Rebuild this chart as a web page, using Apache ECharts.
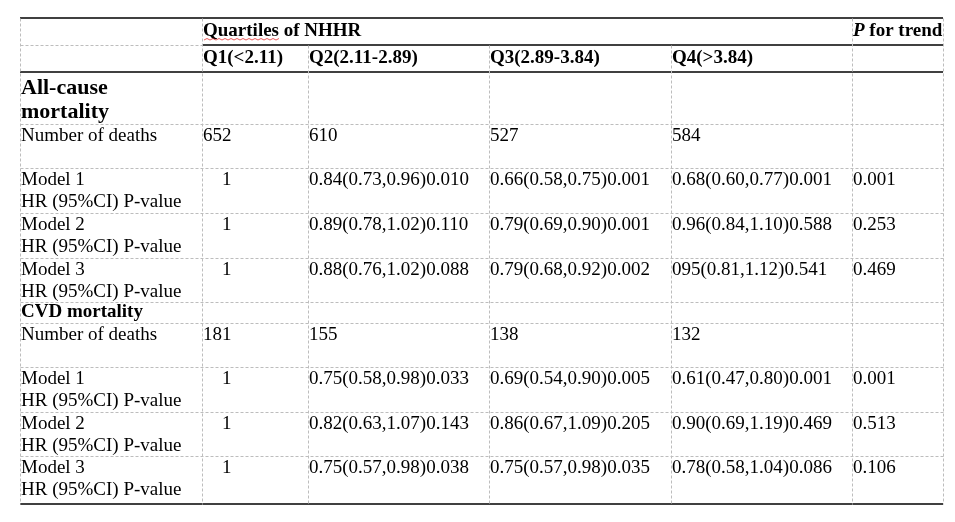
<!DOCTYPE html>
<html>
<head>
<meta charset="utf-8">
<title>NHHR quartiles table</title>
<script src="https://cdn.jsdelivr.net/npm/echarts@6/dist/echarts.min.js"></script>
<style>
  html, body { margin: 0; padding: 0; background: #fff; }
  #main { width: 955px; height: 522px; }
</style>
</head>
<body>
<div id="main"></div>
<script>
// ---- table content ----
var groupTitle = 'Quartiles of NHHR';
var trendTitle = 'P for trend';
var quartiles = ['Q1(<2.11)', 'Q2(2.11-2.89)', 'Q3(2.89-3.84)', 'Q4(>3.84)'];
var sections = ['All-cause\nmortality', 'CVD mortality'];
var deathsLabel = 'Number of deaths';
var modelLabels = ['Model 1\nHR (95%CI) P-value', 'Model 2\nHR (95%CI) P-value', 'Model 3\nHR (95%CI) P-value'];

var allDeaths = ['652', '610', '527', '584'];
var allModel1 = ['1', '0.84(0.73,0.96)0.010', '0.66(0.58,0.75)0.001', '0.68(0.60,0.77)0.001'];
var allModel2 = ['1', '0.89(0.78,1.02)0.110', '0.79(0.69,0.90)0.001', '0.96(0.84,1.10)0.588'];
var allModel3 = ['1', '0.88(0.76,1.02)0.088', '0.79(0.68,0.92)0.002', '095(0.81,1.12)0.541'];
var allTrend = ['0.001', '0.253', '0.469'];

var cvdDeaths = ['181', '155', '138', '132'];
var cvdModel1 = ['1', '0.75(0.58,0.98)0.033', '0.69(0.54,0.90)0.005', '0.61(0.47,0.80)0.001'];
var cvdModel2 = ['1', '0.82(0.63,1.07)0.143', '0.86(0.67,1.09)0.205', '0.90(0.69,1.19)0.469'];
var cvdModel3 = ['1', '0.75(0.57,0.98)0.038', '0.75(0.57,0.98)0.035', '0.78(0.58,1.04)0.086'];
var cvdTrend = ['0.001', '0.513', '0.106'];

// ---- layout (page units, mapped through the hidden axes) ----
var colEdges = [20, 202, 308, 489, 671, 852, 943];
var rowEdges = [18, 45, 72, 124, 168, 213, 258, 302, 323, 367, 412, 456, 504];
var FONT = '"Liberation Serif", "Times New Roman", serif';

// cells: row, col, text, kind
var cells = [];
function add(row, col, text, kind) { cells.push({ row: row, col: col, text: text, kind: kind || 'body' }); }

add(0, 1, groupTitle, 'head');
add(0, 5, trendTitle, 'trend');
quartiles.forEach(function (q, i) { add(1, i + 1, q, 'head'); });

function addSection(startRow, title, titleKind, deaths, models, trend) {
  add(startRow, 0, title, titleKind);
  add(startRow + 1, 0, deathsLabel);
  deaths.forEach(function (v, i) { add(startRow + 1, i + 1, v); });
  models.forEach(function (vals, m) {
    add(startRow + 2 + m, 0, modelLabels[m], 'model');
    vals.forEach(function (v, i) { add(startRow + 2 + m, i + 1, v, i === 0 ? 'ref' : 'body'); });
    add(startRow + 2 + m, 5, trend[m]);
  });
}
addSection(2, sections[0], 'section', allDeaths, [allModel1, allModel2, allModel3], allTrend);
addSection(7, sections[1], 'section2', cvdDeaths, [cvdModel1, cvdModel2, cvdModel3], cvdTrend);

// rules: [x1, y1, x2, y2, solid?]
var rules = [];
var L = colEdges[0], R = colEdges[colEdges.length - 1];
rules.push([L, rowEdges[0], R, rowEdges[0], true]);
rules.push([L, rowEdges[1], colEdges[1], rowEdges[1], false]);
rules.push([colEdges[1], rowEdges[1], R, rowEdges[1], true]);
rules.push([L, rowEdges[2], R, rowEdges[2], true]);
for (var r = 3; r < rowEdges.length - 1; r++) rules.push([L, rowEdges[r], R, rowEdges[r], false]);
rules.push([L, rowEdges[rowEdges.length - 1], R, rowEdges[rowEdges.length - 1], true]);
colEdges.forEach(function (x, i) {
  var top = (i >= 2 && i <= 4) ? rowEdges[1] : rowEdges[0];
  rules.push([x, top, x, rowEdges[rowEdges.length - 1], false]);
});

var myChart = echarts.init(document.getElementById('main'));

function textStyle(cell) {
  var s = { fontFamily: FONT, fontSize: 19, fontWeight: 'normal', fill: '#000', lineHeight: 22 };
  if (cell.kind === 'head' || cell.kind === 'trend' || cell.kind === 'section2') s.fontWeight = 'bold';
  if (cell.kind === 'section') { s.fontWeight = 'bold'; s.fontSize = 22; s.lineHeight = 24; }
  return s;
}

myChart.setOption({
  animation: false,
  grid: { left: 0, right: 0, top: 0, bottom: 0 },
  xAxis: { type: 'value', min: 0, max: 955, show: false },
  yAxis: { type: 'value', min: 0, max: 522, inverse: true, show: false },
  series: [
    {
      type: 'custom',
      silent: true,
      data: rules.map(function (d, i) { return i; }),
      renderItem: function (params, api) {
        var d = rules[params.dataIndex];
        var a = api.coord([d[0], d[1]]), b = api.coord([d[2], d[3]]);
        var solid = d[4];
        var off = solid ? 0 : 0.5;
        return {
          type: 'line',
          shape: { x1: Math.round(a[0]) + off, y1: Math.round(a[1]) + off, x2: Math.round(b[0]) + off, y2: Math.round(b[1]) + off },
          style: solid ? { stroke: '#000', lineWidth: 1.6 } : { stroke: '#bdbdbd', lineWidth: 1, lineDash: [3, 2] }
        };
      }
    },
    {
      type: 'custom',
      silent: true,
      data: cells.map(function (c, i) { return i; }),
      renderItem: function (params, api) {
        var c = cells[params.dataIndex];
        var s = textStyle(c);
        var x = colEdges[c.col] + 1;
        if (c.kind === 'ref') x = colEdges[c.col] + 20;
        var y = rowEdges[c.row];
        var firstMid = (c.kind === 'section') ? 16.5 : (c.row < 2 ? 13 : 12.5);
        if (c.kind === 'section2') firstMid = 10.5;
        var p = api.coord([x, y + firstMid - s.lineHeight / 2]);
        var style = {
          text: c.text, x: p[0], y: p[1],
          fontFamily: s.fontFamily, fontSize: s.fontSize, fontWeight: s.fontWeight,
          lineHeight: s.lineHeight, fill: s.fill, align: 'left', verticalAlign: 'top'
        };
        if (c.kind === 'trend') {
          style.text = '{i|P}' + c.text.slice(1);
          style.rich = { i: { fontStyle: 'italic', fontWeight: 'bold', fontFamily: FONT, fontSize: 19, fill: '#000' } };
        }
        var children = [{ type: 'text', style: style }];
        if (c.row === 0 && c.col === 1) {
          // spell-check squiggle under the first word
          var pts = [];
          for (var k = 0; k <= 25; k++) pts.push(api.coord([x + 1 + k * 3, y + 21.5 + (k % 2 ? -1 : 0.5)]));
          children.push({ type: 'polyline', shape: { points: pts }, style: { stroke: '#e53030', lineWidth: 0.8, fill: null } });
        }
        return { type: 'group', children: children };
      }
    }
  ]
});
</script>
</body>
</html>
